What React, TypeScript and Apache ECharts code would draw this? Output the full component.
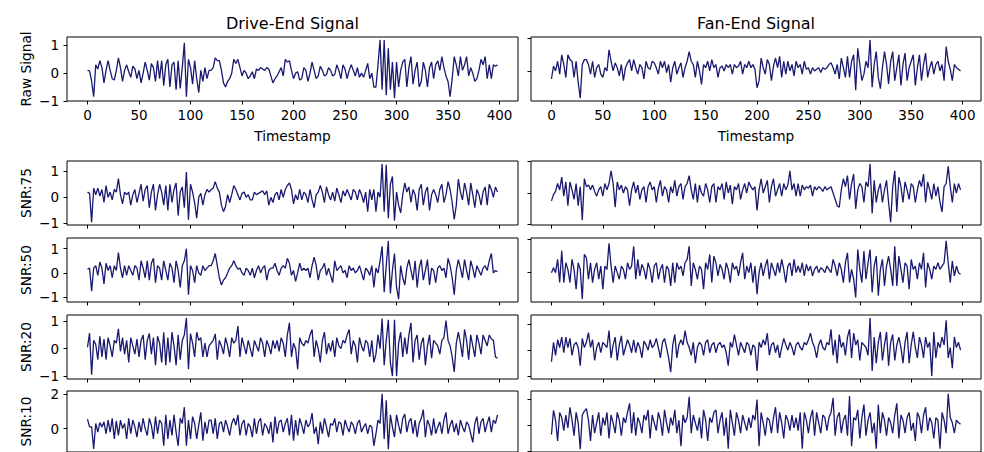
import React, { useEffect, useRef } from "react";
import * as echarts from "echarts";

const timestamps = Array.from({ length: 200 }, (_, i) => i * 2);
const xTicks = [0, 50, 100, 150, 200, 250, 300, 350, 400];
const columnTitles = ["Drive-End Signal", "Fan-End Signal"];
const rowLabels = ["Raw Signal", "SNR:75", "SNR:50", "SNR:20", "SNR:10"];
const xLabel = "Timestamp";

const deRaw = [
  0.1, 0.08, -0.3, -0.85, 0.3, 0.15, 0.45, 0.2, -0.35, 0.1, 0.45, 0.1, -0.2, -0.25, 0.1, 0.55, 0.2, -0.3, 0.1, 0.3,
  0.05, -0.15, 0.25, 0.15, -0.2, 0.1, -0.35, 0.0, 0.4, 0.1, -0.25, 0.35, 0.2, -0.3, 0.45, -0.2, 0.45, -0.45, 0.3, 0.5,
  -0.5, 0.3, 0.4, -0.6, 0.45, -0.55, 0.2, 1.1, -0.85, 0.5, 0.2, -0.4, 0.45, -0.2, -0.7, 0.1, -0.3, 0.2, -0.2, 0.1,
  0.1, 0.2, 0.55, 0.45, 0.45, 0.1, -0.35, -0.5, -0.3, -0.2, 0.0, 0.5, 0.35, 0.5, 0.2, -0.1, 0.1, 0.0, -0.2, -0.1,
  0.05, -0.2, 0.15, 0.1, 0.2, 0.15, 0.1, 0.2, 0.15, -0.1, -0.35, -0.2, -0.1, 0.05, 0.2, -0.1, 0.5, 0.4, 0.45, 0.1,
  -0.2, 0.0, 0.05, -0.25, -0.2, 0.2, 0.1, -0.3, 0.0, 0.4, 0.1, -0.2, -0.1, 0.25, 0.1, -0.1, -0.05, 0.2, 0.1, -0.1,
  -0.05, 0.3, 0.1, -0.2, 0.3, 0.15, -0.2, 0.1, 0.3, 0.1, -0.1, 0.2, -0.15, 0.0, -0.15, 0.1, 0.35, -0.2, 0.0, -0.5,
  -0.5, 0.3, 1.2, -0.6, 1.2, -0.8, 0.9, -0.6, 0.4, -0.9, 0.4, -0.5, 0.1, 0.4, 0.5, -0.5, 0.2, 0.6, -0.4, 0.1,
  0.4, -0.5, -0.3, 0.4, 0.1, -0.5, 0.2, 0.4, -0.2, 0.3, 0.45, 0.1, 0.6, 0.2, -0.1, -0.3, -0.85, -0.2, 0.6, 0.3,
  -0.1, 0.6, 0.1, 0.3, 0.6, -0.1, 0.2, 0.0, -0.3, -0.2, 0.1, 0.5, 0.3, 0.6, -0.2, 0.3, -0.2, 0.3, 0.25, 0.3,
];
const feRaw = [
  -0.25, 0.15, 0.0, 0.3, -0.1, 0.5, 0.2, -0.2, 0.5, 0.35, 0.3, -0.2, 0.3, -0.35, -0.84, 0.2, 0.35, 0.35, 0.2, -0.1,
  0.3, -0.2, 0.1, 0.2, -0.1, -0.2, 0.1, 0.0, 0.65, 0.3, 0.0, 0.25, 0.1, -0.15, 0.2, -0.3, 0.1, 0.25, 0.35, 0.0,
  0.35, 0.1, -0.1, 0.2, 0.1, -0.25, 0.3, 0.1, 0.05, 0.3, 0.25, 0.1, -0.1, 0.3, 0.1, 0.3, -0.05, 0.2, -0.35, 0.1,
  0.3, -0.1, 0.1, 0.25, -0.2, 0.1, 0.3, 0.6, 0.3, 0.2, -0.2, 0.3, 0.0, -0.42, 0.2, 0.1, 0.3, 0.0, 0.35, 0.1,
  0.2, -0.2, 0.1, 0.15, 0.0, 0.2, 0.1, 0.2, -0.1, 0.2, 0.1, 0.15, 0.3, -0.1, 0.2, 0.1, 0.3, 0.1, 0.2, 0.05,
  -0.52, -0.3, 0.4, 0.1, -0.1, 0.35, 0.2, -0.3, 0.15, 0.4, 0.1, 0.45, -0.2, 0.3, -0.1, 0.3, 0.0, 0.2, -0.15, 0.3,
  0.1, 0.2, -0.1, 0.3, 0.05, 0.1, -0.1, 0.1, 0.0, 0.05, 0.1, -0.05, 0.1, 0.05, 0.1, 0.2, 0.25, 0.1, -0.1, 0.2,
  -0.25, 0.4, 0.1, -0.2, 0.45, -0.2, 0.3, 0.5, -0.6, 0.7, 0.2, -0.3, -0.1, 0.3, 0.1, 0.96, -0.5, 0.2, 0.6, -0.2,
  -0.55, 0.1, 0.6, 0.2, -0.4, 0.3, 0.6, -0.3, 0.1, 0.5, -0.45, 0.2, 0.55, -0.3, 0.1, 0.3, 0.5, -0.45, 0.1, 0.5,
  -0.3, 0.2, 0.55, -0.2, 0.1, 0.3, -0.1, 0.2, 0.3, 0.0, 0.2, -0.3, 0.75, 0.3, 0.05, -0.3, 0.2, 0.1, 0.05, 0.0,
];
const de75 = [
  0.2, 0.15, -0.95, 0.35, 0.1, 0.35, 0.05, 0.3, -0.2, 0.45, 0.0, 0.2, -0.1, 0.3, 0.2, 0.72, 0.1, -0.25, 0.2, 0.1,
  0.2, -0.3, 0.1, 0.3, -0.2, 0.15, 0.5, -0.15, 0.3, 0.45, -0.4, 0.2, 0.5, -0.5, 0.1, 0.5, 0.2, -0.3, 0.45, -0.5,
  0.5, -0.2, 0.3, 0.55, -0.7, 0.2, 0.4, -0.4, 0.97, -0.86, 0.5, 0.2, -0.2, -0.8, 0.0, 0.15, -0.3, 0.1, 0.3, 0.2,
  0.3, 0.35, 0.6, 0.35, 0.2, -0.3, -0.55, -0.35, 0.1, -0.2, 0.1, 0.45, 0.3, 0.1, -0.1, 0.15, 0.2, 0.0, 0.1, -0.1,
  -0.1, 0.2, 0.1, 0.15, 0.2, 0.25, 0.1, 0.25, -0.3, 0.0, -0.2, 0.1, 0.2, -0.1, 0.3, 0.0, 0.3, 0.45, 0.55, 0.3,
  -0.25, 0.1, -0.1, 0.3, -0.1, 0.2, 0.1, -0.2, 0.3, -0.1, -0.4, 0.1, 0.2, 0.45, 0.2, -0.2, 0.4, 0.1, -0.1, 0.2,
  -0.15, 0.35, 0.1, -0.2, 0.25, 0.05, 0.3, 0.1, -0.1, 0.3, 0.2, -0.1, 0.3, 0.1, -0.2, 0.2, -0.55, 0.3, -0.1, 0.3,
  -0.55, 0.2, 0.0, 1.28, -0.55, 1.25, -0.8, 0.5, 0.8, -0.9, 0.2, -0.3, -0.6, 0.1, 0.55, 0.2, 0.4, -0.2, 0.3, 0.1,
  -0.5, 0.3, 0.5, -0.3, 0.2, 0.4, -0.5, 0.1, 0.3, 0.1, -0.2, 0.3, 0.5, -0.2, 0.1, 0.6, 0.3, -0.2, -0.85, -0.3,
  0.7, 0.2, -0.1, 0.55, 0.2, -0.3, 0.55, 0.1, -0.4, 0.3, 0.1, -0.3, 0.2, 0.4, -0.3, 0.5, 0.3, 0.0, 0.4, 0.2,
];
const fe75 = [
  -0.25, -0.05, 0.05, 0.3, 0.1, 0.5, -0.1, 0.35, -0.4, 0.35, 0.1, -0.2, 0.3, -0.4, 0.2, -0.86, 0.45, 0.2, 0.25, 0.1,
  0.25, 0.05, -0.1, 0.1, 0.2, -0.1, 0.3, 0.1, 0.3, 0.7, 0.3, -0.45, 0.35, 0.1, 0.25, 0.0, 0.2, 0.1, -0.4, 0.1,
  0.35, 0.0, 0.25, -0.2, 0.1, 0.2, -0.3, 0.2, 0.35, 0.1, 0.2, -0.3, 0.15, 0.4, -0.1, 0.2, 0.1, -0.3, 0.2, 0.0,
  0.4, -0.1, 0.2, 0.3, -0.2, 0.2, 0.3, 0.55, 0.1, -0.2, 0.3, -0.3, 0.25, 0.0, -0.1, 0.3, 0.1, -0.3, 0.2, 0.3,
  -0.3, 0.2, 0.1, 0.3, -0.2, 0.35, 0.0, 0.25, -0.35, 0.2, 0.1, 0.3, -0.2, 0.1, 0.3, 0.0, 0.35, 0.2, 0.1, 0.2,
  -0.55, 0.1, 0.45, 0.0, 0.2, 0.4, -0.3, 0.2, 0.45, -0.1, 0.1, 0.3, -0.1, 0.3, 0.1, 0.25, 0.7, 0.1, 0.3, -0.1,
  0.3, -0.1, 0.25, 0.1, 0.2, 0.15, 0.25, -0.1, 0.2, 0.1, 0.2, 0.15, 0.05, 0.2, 0.1, 0.15, 0.2, 0.0, -0.2, -0.4,
  -0.45, 0.1, 0.45, 0.2, 0.55, -0.2, 0.3, 0.6, -0.5, 0.1, 0.3, 0.2, -0.3, 0.35, 0.2, 0.92, -0.65, 0.4, -0.3, 0.1,
  0.3, -0.3, 0.1, 0.4, -0.3, -0.92, 0.2, 0.7, -0.6, 0.5, 0.2, -0.3, 0.35, 0.1, -0.2, 0.3, 0.2, -0.3, 0.1, 0.4,
  0.2, 0.6, -0.3, 0.35, 0.1, -0.2, 0.3, -0.1, 0.2, -0.3, -0.6, 0.2, 0.3, 0.84, 0.2, -0.3, 0.3, 0.0, 0.3, 0.1,
];
const de50 = [
  0.15, 0.2, -0.75, 0.2, 0.3, -0.1, 0.45, 0.2, -0.45, 0.4, 0.1, 0.3, -0.2, 0.3, 0.1, 0.84, 0.2, -0.2, 0.3, -0.1,
  0.3, 0.1, -0.1, 0.3, 0.2, -0.3, 0.5, 0.2, -0.2, 0.5, -0.3, 0.4, 0.6, -0.4, 0.3, 0.2, -0.3, 0.5, 0.1, -0.3,
  0.4, 0.2, -0.4, 0.5, 0.1, -0.6, 0.3, 0.5, 1.0, -0.9, 0.3, 0.1, -0.4, 0.3, 0.0, -0.1, 0.3, 0.1, 0.2, 0.3,
  0.3, 0.5, 0.8, 0.3, -0.2, -0.5, -0.3, -0.2, 0.0, 0.2, 0.3, 0.5, 0.3, 0.15, 0.2, 0.0, -0.1, 0.2, 0.1, -0.1,
  0.2, -0.2, 0.1, 0.3, 0.0, 0.2, 0.3, -0.3, 0.1, 0.2, 0.2, 0.4, 0.1, -0.1, 0.2, 0.3, 0.2, 0.6, 0.4, -0.1,
  0.1, -0.35, 0.0, 0.4, 0.1, 0.2, 0.1, 0.2, -0.2, 0.3, 0.65, 0.3, -0.3, 0.1, 0.2, 0.4, -0.1, 0.2, -0.1, -0.4,
  0.5, 0.1, 0.2, 0.3, 0.0, 0.1, -0.2, 0.3, 0.1, 0.2, 0.0, 0.1, 0.3, 0.0, -0.3, 0.2, 0.1, -0.1, 0.3, -0.6,
  0.2, 0.0, 0.5, 1.1, -0.8, 0.3, 1.32, -0.85, 0.1, 0.8, -0.6, -1.08, 0.3, -0.2, -0.5, 0.2, 0.55, 0.1, -0.3, 0.5,
  -0.6, 0.2, 0.55, -0.3, 0.1, 0.55, -0.5, 0.2, 0.1, -0.4, 0.2, 0.3, 0.1, 0.2, -0.2, 0.6, 0.3, -0.2, -0.9, 0.1,
  0.55, 0.2, -0.2, 0.55, 0.1, -0.3, 0.5, 0.2, -0.2, 0.3, 0.1, -0.1, 0.2, 0.3, 0.1, 0.5, 0.8, 0.0, 0.1, 0.05,
];
const fe50 = [
  0.0, 0.15, 0.0, 0.4, -0.3, 0.66, -0.3, 0.3, 0.1, -0.3, 0.4, 0.1, -0.5, 0.3, 0.1, -0.8, 0.55, 0.45, -0.2, 0.3,
  -0.3, 0.1, 0.3, -0.2, 0.2, -0.5, 0.2, 0.1, 0.89, 0.2, -0.3, 0.2, 0.0, -0.2, 0.2, 0.1, -0.2, 0.3, 0.1, 0.2,
  0.8, -0.2, 0.4, -0.1, 0.25, 0.1, -0.2, 0.3, 0.1, -0.3, 0.2, 0.3, -0.2, 0.1, 0.25, -0.3, 0.2, 0.1, -0.4, 0.3,
  -0.3, 0.3, 0.1, 0.2, -0.1, 0.3, 0.4, 0.8, -0.4, 0.3, 0.1, -0.2, 0.2, 0.1, -0.5, 0.3, 0.1, 0.55, -0.3, 0.5,
  0.3, -0.1, 0.25, 0.1, -0.2, 0.3, 0.1, -0.3, 0.3, 0.1, 0.2, -0.1, 0.3, 0.6, -0.2, 0.2, 0.0, 0.3, -0.3, 0.2,
  -0.65, 0.0, 0.3, -0.1, 0.2, 0.4, -0.2, 0.3, 0.1, -0.1, 0.3, 0.0, 0.4, 0.1, -0.3, 0.2, 0.3, -0.1, 0.4, 0.0,
  0.2, 0.0, 0.3, -0.1, 0.25, 0.05, 0.2, -0.1, 0.1, 0.2, 0.0, 0.15, 0.1, 0.0, 0.2, 0.1, 0.0, 0.4, 0.2, -0.1,
  0.3, 0.1, -0.3, 0.3, 0.6, -0.3, 0.1, -0.2, -0.75, 0.7, 0.1, -0.3, 0.65, -0.2, 0.3, 0.7, -0.6, 0.2, 0.5, -0.7,
  0.1, 0.4, -0.4, 0.2, 0.5, 0.1, -0.4, 0.8, -0.4, 0.5, 0.1, -0.3, 0.3, 0.2, -0.5, 0.4, 0.1, 0.2, -0.2, 0.3,
  0.1, 0.6, -0.45, 0.3, 0.1, -0.2, 0.2, 0.1, 0.3, 0.1, 0.2, 0.3, 0.96, 0.3, -0.3, 0.35, -0.1, 0.2, 0.0, -0.05,
];
const de20 = [
  0.05, 0.57, -0.95, 0.3, 0.15, -0.4, 0.45, -0.3, 0.35, -0.4, 0.4, 0.1, -0.3, 0.3, 0.2, 0.72, -0.1, 0.4, -0.2, 0.3,
  -0.5, 0.4, 0.1, -0.2, 0.35, -0.3, 0.3, 0.5, -0.4, 0.3, 0.55, -0.2, 0.4, -0.6, 0.45, 0.2, -0.5, 0.6, -0.6, 0.4,
  -0.5, 0.6, 0.1, -0.6, 0.5, -0.4, 0.3, 0.5, 1.12, -0.75, 0.55, 0.2, -0.3, 0.6, 0.3, 0.4, -0.3, 0.2, -0.3, 0.1,
  0.2, 0.3, 0.54, -0.4, 0.3, 0.1, -0.2, 0.4, 0.1, -0.3, 0.4, 0.2, 0.3, 0.82, -0.3, 0.4, 0.1, -0.2, 0.3, 0.0,
  -0.3, 0.3, 0.1, -0.1, 0.4, 0.2, -0.3, 0.3, 0.1, -0.2, 0.3, 0.0, 0.3, -0.1, 0.4, 0.2, -0.3, 0.5, 0.94, -0.3,
  0.2, 0.0, -0.75, 0.4, 0.2, 0.1, 0.3, 0.2, 0.5, 0.7, -0.3, 0.3, 0.0, -0.5, 0.3, 0.6, -0.2, 0.2, -0.1, 0.3,
  -0.3, 0.4, 0.1, 0.0, 0.3, 0.2, 0.5, 0.7, -0.2, 0.3, 0.1, -0.5, 0.4, 0.1, -0.1, 0.3, 0.2, -0.3, 0.3, -0.5,
  -0.2, 0.5, 0.0, 1.1, -0.6, 0.3, 1.05, -0.5, -1.0, 1.05, -1.0, 0.2, 0.6, -0.3, 0.4, -0.2, 0.5, 0.94, -0.5, 0.3,
  0.5, -0.4, 0.2, 0.4, -0.6, 0.1, 0.5, -0.35, 0.3, 0.2, 0.1, -0.2, 0.3, 0.4, 1.02, 0.3, 0.1, -0.3, -0.85, 0.2,
  0.6, 0.2, -0.3, 0.7, 0.3, -0.4, 0.5, 0.1, -0.3, 0.5, 0.2, -0.2, 0.5, 0.3, 0.1, 0.5, 0.35, 0.3, -0.3, -0.35,
];
const fe20 = [
  -0.45, 0.3, -0.2, 0.4, 0.1, 0.5, -0.1, 0.5, 0.1, 0.45, -0.2, 0.2, 0.3, 0.1, -0.6, 0.45, 0.1, 0.3, 0.67, 0.1,
  0.4, -0.4, 0.1, 0.3, -0.1, 0.3, 0.2, 0.1, 0.75, -0.3, 0.2, 0.5, -0.4, 0.2, 0.55, -0.2, 0.1, 0.4, 0.2, -0.1,
  0.4, -0.1, 0.3, 0.1, -0.3, 0.35, 0.2, 0.0, 0.4, 0.1, 0.2, 0.45, 0.1, -0.3, 0.3, 0.45, 0.1, -0.3, -0.85, 0.2,
  0.6, -0.3, 0.2, 0.4, 0.2, 0.75, 0.3, 0.1, -0.2, 0.3, -0.5, 0.1, 0.3, 0.2, -0.2, 0.3, 0.4, -0.1, 0.2, 0.3,
  -0.1, 0.2, 0.3, 0.1, 0.2, -0.1, -0.6, 0.3, 0.1, 0.6, 0.2, -0.2, 0.3, 0.1, -0.1, 0.3, 0.2, -0.2, 0.2, 0.1,
  -0.8, 0.3, 0.1, 0.4, 0.2, 0.65, -0.2, 0.2, 0.3, -0.1, 0.2, -0.3, 0.1, 0.45, 0.2, 0.0, 0.3, 0.1, -0.2, 0.2,
  0.3, 0.1, 0.0, 0.3, 0.2, 0.4, 0.65, 0.3, 0.1, -0.3, 0.2, 0.4, 0.1, 0.0, 0.3, 0.2, 0.8, -0.2, 0.4, -0.5,
  0.6, 0.1, 0.3, -0.2, 0.5, 0.8, -0.3, 0.65, 0.2, 0.4, -0.4, 0.3, 0.2, 0.1, -0.2, 1.24, -0.8, 0.5, -0.5, 0.3,
  0.7, -0.4, 0.2, 0.7, -0.6, 0.3, 0.6, -0.4, 0.2, 0.5, 0.1, -0.5, 0.3, 0.7, -0.5, 0.2, 0.7, 0.1, -0.3, 0.5,
  0.2, -0.3, 0.5, 0.1, 0.3, -1.0, 0.7, -0.3, 0.3, 0.1, 0.5, 0.2, 1.15, -0.3, 0.1, -0.7, 0.5, 0.1, 0.3, 0.0,
];
const de10 = [
  0.55, 0.1, 0.1, -1.18, 0.3, -0.2, 0.35, 0.1, 0.4, -0.3, 0.5, -0.2, 0.6, -0.6, 0.45, -0.4, 0.5, 0.0, 0.3, -0.6,
  0.6, -0.3, 0.5, 0.1, -0.5, 0.4, -0.2, 0.6, 0.0, -0.4, 0.6, 0.2, -0.6, 0.7, -0.3, 0.5, 0.3, -1.0, 0.8, -0.6,
  0.5, -0.4, 0.8, -0.2, -1.0, 0.6, 0.3, 1.25, -1.0, 0.5, -0.6, 0.7, 0.3, -0.6, 0.2, 0.95, -0.7, 0.4, -0.3, 0.5,
  0.5, -0.3, 0.6, -0.6, 0.3, 0.4, -0.2, 0.5, 0.1, -0.4, 0.3, 0.6, 0.2, 0.8, -0.4, 0.3, 0.5, -0.4, 0.3, 0.1,
  -0.5, 0.6, -0.3, 0.4, 0.6, -0.4, 0.3, 0.1, -0.3, 0.4, -0.8, 0.7, -0.3, 0.4, 0.5, -0.2, 0.3, 0.6, -0.4, 0.8,
  -0.7, 0.5, -0.4, 0.6, 0.2, -0.3, 0.5, 0.1, 0.3, 0.9, -0.3, 0.1, -0.9, 0.4, -0.3, 0.6, 0.1, -0.5, 0.3, 0.2,
  0.6, -0.2, 0.4, 0.3, -0.4, 0.5, 0.1, -0.2, 0.4, 0.2, -0.3, 0.3, 0.5, -0.2, 0.1, 0.3, -0.3, 0.2, 0.1, -1.0,
  -0.3, 0.5, 0.3, 2.03, -0.6, 1.65, -1.2, 0.8, 0.1, -0.5, 0.8, 0.2, -0.3, 0.6, 0.85, -0.2, 0.4, 0.6, -0.3, 0.5,
  -0.5, 0.3, 0.6, 1.1, -0.5, 0.5, 0.2, -0.4, 0.6, -0.3, 0.1, 0.4, -0.3, 0.5, 0.95, -0.3, 0.2, 0.5, -0.2, 0.3,
  -0.4, 0.5, 0.1, -0.2, 0.4, 0.2, -0.3, -0.8, 0.3, 0.7, -0.3, 0.4, 0.6, -0.2, 0.3, 0.7, -0.2, 0.5, 0.3, 0.8,
];
const fe10 = [
  -0.35, 0.58, 0.2, -0.6, 0.5, 0.3, -0.2, 0.4, -0.1, 0.7, 0.2, -0.4, 0.5, 0.1, -0.92, 0.4, 0.55, 0.65, 0.2, -0.6,
  0.4, -0.3, 0.1, 0.5, -0.4, 0.3, 0.0, 0.5, -0.5, 0.4, 0.1, -0.3, 0.5, 0.2, -0.4, 0.3, 0.1, 0.5, 0.85, -0.3,
  0.5, -0.4, 0.3, 0.1, -0.3, 0.4, 0.2, 0.6, -0.5, 0.4, 0.1, -0.2, 0.5, 0.2, -0.4, 0.6, 0.1, -0.3, 0.3, 0.0,
  0.6, -0.3, 0.2, -0.8, 0.4, 0.1, 0.3, 1.1, -0.3, 0.4, 0.1, -0.2, 0.3, -0.5, 0.6, 0.2, -0.6, 0.3, 0.1, 0.5,
  0.6, -0.3, 0.2, 0.5, -0.4, 0.3, -0.9, 0.6, 0.1, -0.4, 0.5, 0.2, -0.3, 0.4, 0.1, -0.2, 0.3, -0.1, 0.4, 0.2,
  1.0, -0.8, 0.5, 0.1, -0.4, 0.3, 0.2, -0.3, 0.3, 0.7, -0.3, 0.5, 0.1, -0.5, 0.4, 0.2, -0.2, 0.4, -0.1, 0.3,
  -0.2, 0.5, -0.9, 0.5, 0.2, -0.3, 0.3, 0.6, -0.4, 0.5, 0.1, -0.3, 0.4, 0.3, -0.2, 0.3, 0.5, 1.06, -0.4, 0.3,
  0.5, -0.3, 0.2, 0.4, -0.4, 1.13, -0.8, 0.3, 0.2, 0.6, -0.5, 0.3, 0.8, -0.4, 0.2, 0.5, -0.3, 0.1, -0.9, 0.8,
  -0.3, 0.5, 0.2, -0.4, 0.3, 0.1, -0.3, 0.4, 0.85, -0.5, 0.4, 0.2, -0.3, 0.3, 0.5, -0.2, 0.1, -0.6, 0.5, 0.3,
  -0.3, 0.4, 0.7, -0.2, 0.3, 0.1, -0.5, 0.3, 0.2, -0.9, 0.5, 0.2, -0.3, 1.22, 0.3, 0.1, -0.3, 0.2, 0.1, 0.05,
];

const driveEnd = [deRaw, de75, de50, de20, de10];
const fanEnd = [feRaw, fe75, fe50, fe20, fe10];

const LINE_COLOR = "#191970";
const FONT = "DejaVu Sans";
const COL_LEFT = [67, 531];
const COL_WIDTH = [451, 450];
const ROW_TOP = [37, 161, 238, 315, 391];
const ROW_HEIGHT = 64;
const X_MIN = -19.9;
const X_MAX = 417.9;

function yRange(arr: number[]) {
  const lo = Math.min(...arr);
  const hi = Math.max(...arr);
  const m = (hi - lo) * 0.05;
  return [lo - m, hi + m];
}

function yTicks(lo: number, hi: number) {
  const cands = hi - lo > 3 ? [-2, 0, 2] : [-1, 0, 1];
  return cands.filter((v) => v >= lo - 1e-9 && v <= hi + 1e-9);
}

export default function App() {
  const ref = useRef<HTMLDivElement>(null);
  useEffect(() => {
    if (!ref.current) return;
    const chart = echarts.init(ref.current, null, { renderer: "svg" });
    const grids: any[] = [];
    const xAxes: any[] = [];
    const yAxes: any[] = [];
    const series: any[] = [];
    let idx = 0;
    for (let r = 0; r < 5; r++) {
      for (let c = 0; c < 2; c++) {
        const arr = c === 0 ? driveEnd[r] : fanEnd[r];
        const [lo, hi] = yRange(arr);
        const ticks = yTicks(lo, hi);
        grids.push({
          left: COL_LEFT[c],
          top: ROW_TOP[r],
          width: COL_WIDTH[c],
          height: ROW_HEIGHT,
          show: true,
          borderColor: "#000",
          borderWidth: 1,
          backgroundColor: "transparent",
        });
        xAxes.push({
          type: "value",
          gridIndex: idx,
          min: X_MIN,
          max: X_MAX,
          axisLine: { show: false, onZero: false },
          splitLine: { show: false },
          axisTick: {
            show: true,
            length: 3.5,
            customValues: xTicks,
            lineStyle: { color: "#000", width: 1 },
          },
          axisLabel: {
            show: r === 0,
            customValues: xTicks,
            color: "#000",
            fontSize: 13.5,
            fontFamily: FONT,
            margin: 7,
          },
          name: r === 0 ? xLabel : "",
          nameLocation: "middle",
          nameGap: 28,
          nameTextStyle: { color: "#000", fontSize: 13.7, fontFamily: FONT },
        });
        yAxes.push({
          type: "value",
          gridIndex: idx,
          min: lo,
          max: hi,
          axisLine: { show: false, onZero: false },
          splitLine: { show: false },
          axisTick: {
            show: true,
            length: 3.5,
            customValues: ticks,
            lineStyle: { color: "#000", width: 1 },
          },
          axisLabel: {
            show: c === 0,
            customValues: ticks,
            color: "#000",
            fontSize: 13.5,
            fontFamily: FONT,
            margin: 8,
            formatter: (v: number) => (v < 0 ? "\u2212" + Math.abs(v) : String(v)),
          },
          name: c === 0 ? rowLabels[r] : "",
          nameLocation: "middle",
          nameGap: 34,
          nameTextStyle: { color: "#000", fontSize: 13.7, fontFamily: FONT },
        });
        series.push({
          type: "line",
          xAxisIndex: idx,
          yAxisIndex: idx,
          data: arr.slice(0, timestamps.length).map((v, k) => [timestamps[k], v]),
          showSymbol: false,
          symbol: "none",
          silent: true,
          lineStyle: { color: LINE_COLOR, width: 1.3 },
        });
        idx++;
      }
    }
    chart.setOption({
      animation: false,
      backgroundColor: "#fff",
      grid: grids,
      xAxis: xAxes,
      yAxis: yAxes,
      series,
      graphic: columnTitles.map((t, c) => ({
        type: "text",
        x: COL_LEFT[c] + COL_WIDTH[c] / 2,
        y: 23,
        style: {
          text: t,
          fill: "#000",
          font: `16px "${FONT}"`,
          align: "center",
          verticalAlign: "middle",
        },
      })),
    });
    return () => chart.dispose();
  }, []);
  return (
    <div
      ref={ref}
      style={{ position: "fixed", left: 0, top: 0, width: 984, height: 452, background: "#fff" }}
    />
  );
}
